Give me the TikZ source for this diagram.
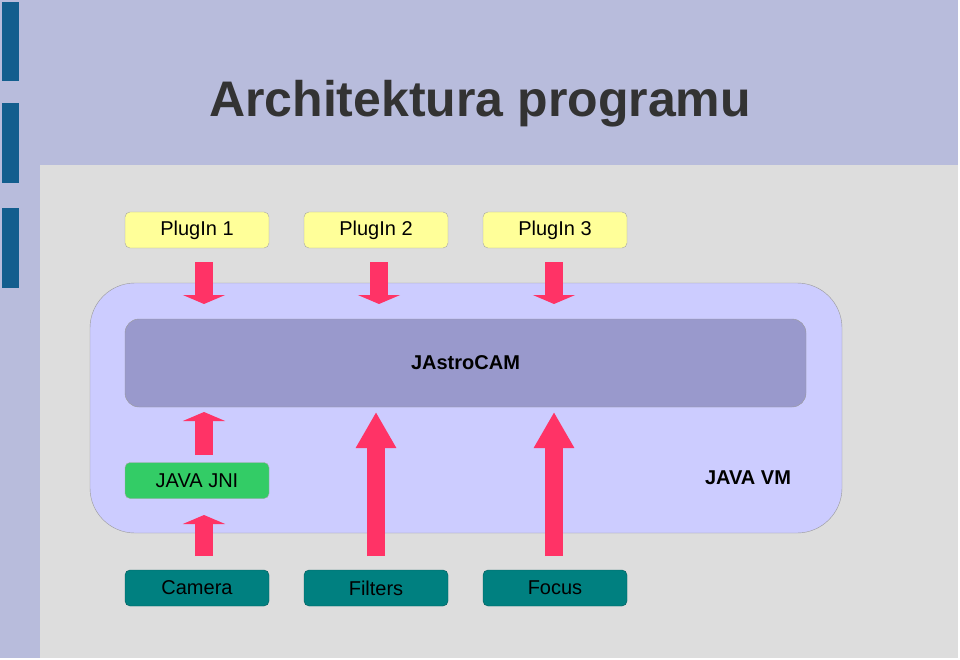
\documentclass[tikz,border=0pt]{standalone}
\usepackage{fontspec}
\setmainfont{Liberation Sans}
\usetikzlibrary{arrows.meta}
\definecolor{slidebg}{HTML}{B8BCDC}
\definecolor{areabg}{HTML}{DDDDDD}
\definecolor{barblue}{HTML}{135E8E}
\definecolor{vmfill}{HTML}{CCCCFF}
\definecolor{camfill}{HTML}{9999CC}
\definecolor{plugfill}{HTML}{FFFF99}
\definecolor{jnifill}{HTML}{33CC66}
\definecolor{devfill}{HTML}{008080}
\definecolor{arrowpink}{HTML}{FF3366}
\tikzset{
  box/.style={draw=gray!70, rounded corners=5pt, minimum width=144pt, minimum height=36pt, font=\fontsize{20}{24}\selectfont, inner sep=0pt},
  plug/.style={box, fill=plugfill},
  dev/.style={box, fill=devfill, draw=devfill!70!black},
  push/.style={draw=arrowpink, line width=18pt, -{Triangle[length=9pt,width=42pt]}},
  bigpush/.style={draw=arrowpink, line width=18pt, -{Triangle[length=36pt,width=38pt]}}
}
\begin{document}
\begin{tikzpicture}[x=1pt,y=-1pt]
  \useasboundingbox (0,0) rectangle (960,660);
  % background
  \fill[white] (0,0) rectangle (960,660);
  \fill[slidebg] (0,0) rectangle (958,658);
  \fill[areabg] (40,165) rectangle (958,658);
  \foreach \ya/\yb in {2/81, 103/183, 208/288}
    \fill[barblue] (2,\ya) rectangle (19,\yb);
  \node[font=\fontsize{50}{60}\selectfont\bfseries, text=black!80] (title) at (480,104) {Architektura programu};
  % virtual machine and core
  \node[draw=gray!80, fill=vmfill, rounded corners=45pt, minimum width=752pt, minimum height=250pt, inner sep=0pt] (vm) at (466,408) {};
  \node[font=\fontsize{20}{24}\selectfont\bfseries] (vmlabel) at (748,478) {JAVA VM};
  \node[draw=gray!80, fill=camfill, rounded corners=14pt, minimum width=681pt, minimum height=88pt, inner sep=0pt, font=\fontsize{20}{24}\selectfont\bfseries] (core) at (465.5,363) {JAstroCAM};
  % plugins
  \node[plug] (plug1) at (197,230) {PlugIn 1};
  \node[plug] (plug2) at (376,230) {PlugIn 2};
  \node[plug] (plug3) at (555,230) {PlugIn 3};
  % native side
  \node[box, fill=jnifill] (jni) at (197,480.5) {JAVA JNI};
  \node[dev] (camera) at (197,588) {Camera};
  \node[dev] (filters) at (376,588) {Filters};
  \node[dev] (focus) at (555,588) {Focus};
  % arrows
  \foreach \n/\x in {plug1/204, plug2/379, plug3/554}
    \draw[push] (\x,262) -- (\x,304);
  \draw[push] (204,455) -- (204,412);
  \draw[push] (204,556) -- (204,515);
  \draw[bigpush] (376,556) -- (376,412);
  \draw[bigpush] (554,556) -- (554,412);
\end{tikzpicture}
\end{document}
